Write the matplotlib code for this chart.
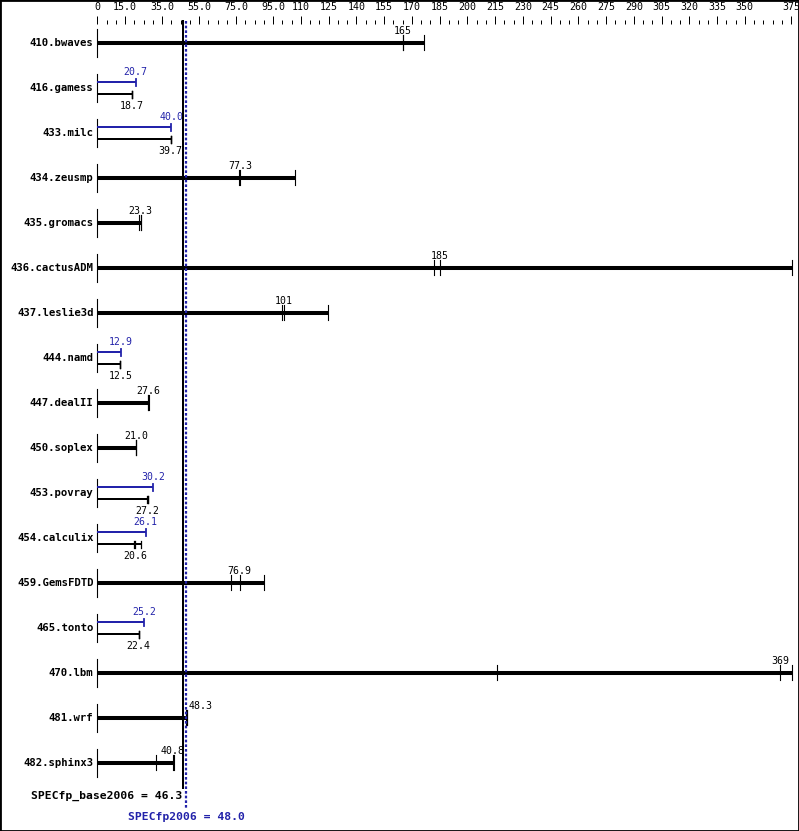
import matplotlib
matplotlib.use("Agg")
import matplotlib.pyplot as plt
from matplotlib.patches import Rectangle
from matplotlib.ticker import FixedLocator

benchmarks = ["410.bwaves", "416.gamess", "433.milc", "434.zeusmp", "435.gromacs",
              "436.cactusADM", "437.leslie3d", "444.namd", "447.dealII", "450.soplex",
              "453.povray", "454.calculix", "459.GemsFDTD", "465.tonto", "470.lbm",
              "481.wrf", "482.sphinx3"]
# base runs (3 each)
base_runs = [[165, 165.5, 176.6], [18.6, 18.7, 18.7], [39.6, 39.7, 39.8],
             [76.5, 77.3, 107.0], [22.4, 23.6, 23.6], [181.8, 185, 375.5],
             [100.0, 101, 124.9], [12.5, 12.5, 12.5], [27.5, 27.6, 28.0],
             [20.9, 21.0, 21.1], [27.1, 27.2, 27.3], [19.9, 20.6, 23.6],
             [72.4, 76.9, 90.2], [22.3, 22.4, 22.5], [216.0, 369, 375.5],
             [48.0, 48.3, 48.5], [31.7, 40.8, 41.5]]
base_median = [165, 18.7, 39.7, 77.3, 23.3, 185, 101, 12.5, 27.6, 21.0,
               27.2, 20.6, 76.9, 22.4, 369, 48.3, 40.8]
peak_value = [None, 20.7, 40.0, None, None, None, None, 12.9, None, None,
              30.2, 26.1, None, 25.2, None, None, None]
base_score = 46.3
peak_score = 48.0
tick_labels = [0, 15, 35, 55, 75, 95] + list(range(110, 351, 15)) + [375]

W, H = 799, 831
x0px = 97.3
s = 1.85  # pixels per unit
blue = "#2323aa"
mono = "DejaVu Sans Mono"

def px(xp):
    return (xp - x0px) / s

def fmt(v):
    if v == 0:
        return "0"
    return "%d" % round(v) if v >= 100 else "%.1f" % v

fig = plt.figure(figsize=(W / 100, H / 100), dpi=100)
ax = fig.add_axes([0, 0, 1, (H - 24) / H])
ax.set_xlim(px(0), px(W))
ax.set_ylim(H, 24)
for sp in ax.spines.values():
    sp.set_visible(False)
ax.yaxis.set_visible(False)
ax.xaxis.tick_top()
ax.xaxis.set_major_locator(FixedLocator(tick_labels))
ax.xaxis.set_minor_locator(FixedLocator(list(range(0, 376, 5))))
ax.set_xticklabels([fmt(t) for t in tick_labels], fontfamily=mono, fontsize=7.2)
ax.tick_params(axis="x", which="major", length=5.8, width=0.72, pad=2.5)
ax.tick_params(axis="x", which="minor", length=2.9, width=0.72)

lw_thick = 2.9
lw_thin = 1.44
for i, name in enumerate(benchmarks):
    y = 43 + 45 * i
    ax.text(px(93.5), y, name, ha="right", va="center", fontfamily=mono,
            fontweight="bold", fontsize=7.7)
    ax.plot([0, 0], [y - 14, y + 14], color="black", lw=0.8)
    runs = base_runs[i]
    if peak_value[i] is None:
        ax.plot([0, max(runs)], [y, y], color="black", lw=lw_thick, solid_capstyle="butt")
        for r in runs:
            ax.plot([r, r], [y - 7.5, y + 7.5], color="black", lw=0.8)
        m = base_median[i]
        if abs(m - peak_score) < 6:
            ax.text(px(189), y - 12, fmt(m), ha="left", va="center",
                    fontfamily=mono, fontsize=7.1)
        else:
            ax.text(m, y - 12, fmt(m), ha="center", va="center",
                    fontfamily=mono, fontsize=7.1)
    else:
        pv = peak_value[i]
        yp, yb = y - 5.5, y + 6.5
        ax.plot([0, pv], [yp, yp], color=blue, lw=lw_thin, solid_capstyle="butt")
        ax.plot([pv, pv], [yp - 3.5, yp + 3.5], color=blue, lw=1.3)
        ax.text(pv, y - 16, fmt(pv), ha="center", va="center", color=blue,
                fontfamily=mono, fontsize=7.1)
        ax.plot([0, max(runs)], [yb, yb], color="black", lw=lw_thin, solid_capstyle="butt")
        for r in runs:
            ax.plot([r, r], [yb - 3.5, yb + 3.5], color="black", lw=0.9)
        ax.text(base_median[i], y + 18, fmt(base_median[i]), ha="center", va="center",
                fontfamily=mono, fontsize=7.1)

# overall scores
ax.plot([base_score, base_score], [21, 788], color="black", lw=1.44, zorder=5, clip_on=False)
ax.plot([peak_score, peak_score], [21, 808], color=blue, lw=1.6, ls=(0, (1.2, 0.9)),
        zorder=6, clip_on=False)
ax.text(px(182), 796, "SPECfp_base2006 = %.1f" % base_score, ha="right", va="center",
        fontfamily=mono, fontweight="bold", fontsize=8.2)
ax.text(peak_score, 817, "SPECfp2006 = %.1f" % peak_score, ha="center", va="center",
        fontfamily=mono, fontweight="bold", fontsize=8.2, color=blue)

fig.add_artist(Rectangle((0, 0), 1, 1, transform=fig.transFigure, fill=False,
                         lw=2, ec="black"))
fig.savefig("out.png", dpi=100)
